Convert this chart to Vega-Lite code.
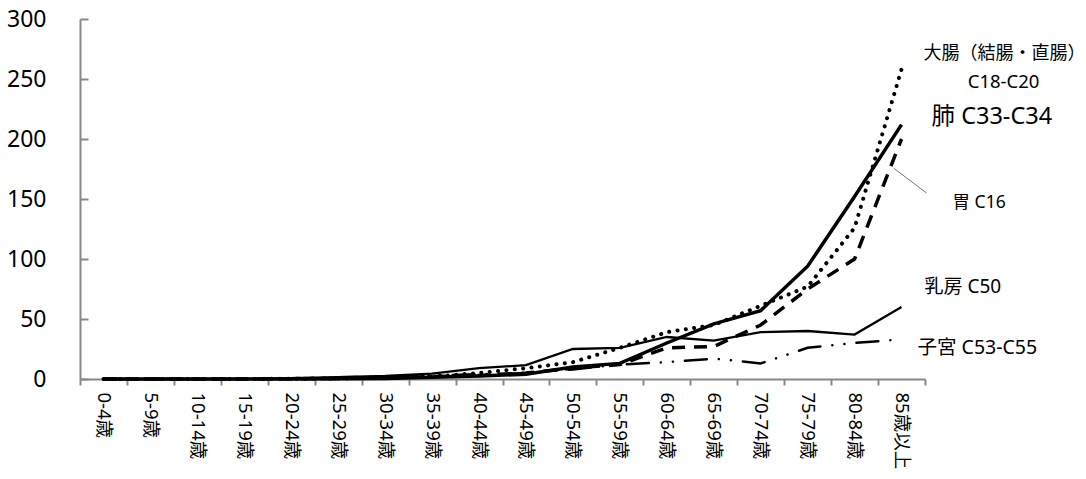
{
  "$schema": "https://vega.github.io/schema/vega-lite/v6.json",
  "width": 845,
  "height": 360,
  "autosize": {"type": "none"},
  "padding": {"left": 80, "top": 19, "right": 161, "bottom": 100},
  "background": "white",
  "config": {"view": {"stroke": null}, "font": "Noto Sans, Noto Sans CJK JP"},
  "datasets": {
    "rates": [
      {"age": "0-4歳", "series": "肺", "value": 0}, {"age": "5-9歳", "series": "肺", "value": 0}, {"age": "10-14歳", "series": "肺", "value": 0}, {"age": "15-19歳", "series": "肺", "value": 0}, {"age": "20-24歳", "series": "肺", "value": 0.1}, {"age": "25-29歳", "series": "肺", "value": 0.2}, {"age": "30-34歳", "series": "肺", "value": 0.5}, {"age": "35-39歳", "series": "肺", "value": 1.5}, {"age": "40-44歳", "series": "肺", "value": 2.5}, {"age": "45-49歳", "series": "肺", "value": 4}, {"age": "50-54歳", "series": "肺", "value": 10}, {"age": "55-59歳", "series": "肺", "value": 13}, {"age": "60-64歳", "series": "肺", "value": 30}, {"age": "65-69歳", "series": "肺", "value": 46}, {"age": "70-74歳", "series": "肺", "value": 57}, {"age": "75-79歳", "series": "肺", "value": 94}, {"age": "80-84歳", "series": "肺", "value": 152}, {"age": "85歳以上", "series": "肺", "value": 212},
      {"age": "0-4歳", "series": "大腸", "value": 0}, {"age": "5-9歳", "series": "大腸", "value": 0}, {"age": "10-14歳", "series": "大腸", "value": 0}, {"age": "15-19歳", "series": "大腸", "value": 0}, {"age": "20-24歳", "series": "大腸", "value": 0.2}, {"age": "25-29歳", "series": "大腸", "value": 0.4}, {"age": "30-34歳", "series": "大腸", "value": 1}, {"age": "35-39歳", "series": "大腸", "value": 2}, {"age": "40-44歳", "series": "大腸", "value": 5}, {"age": "45-49歳", "series": "大腸", "value": 9}, {"age": "50-54歳", "series": "大腸", "value": 14}, {"age": "55-59歳", "series": "大腸", "value": 26}, {"age": "60-64歳", "series": "大腸", "value": 39}, {"age": "65-69歳", "series": "大腸", "value": 45}, {"age": "70-74歳", "series": "大腸", "value": 61}, {"age": "75-79歳", "series": "大腸", "value": 77}, {"age": "80-84歳", "series": "大腸", "value": 126}, {"age": "85歳以上", "series": "大腸", "value": 258},
      {"age": "0-4歳", "series": "胃", "value": 0}, {"age": "5-9歳", "series": "胃", "value": 0}, {"age": "10-14歳", "series": "胃", "value": 0}, {"age": "15-19歳", "series": "胃", "value": 0}, {"age": "20-24歳", "series": "胃", "value": 0.2}, {"age": "25-29歳", "series": "胃", "value": 0.5}, {"age": "30-34歳", "series": "胃", "value": 1}, {"age": "35-39歳", "series": "胃", "value": 2}, {"age": "40-44歳", "series": "胃", "value": 3}, {"age": "45-49歳", "series": "胃", "value": 5}, {"age": "50-54歳", "series": "胃", "value": 9}, {"age": "55-59歳", "series": "胃", "value": 12}, {"age": "60-64歳", "series": "胃", "value": 26}, {"age": "65-69歳", "series": "胃", "value": 27}, {"age": "70-74歳", "series": "胃", "value": 45}, {"age": "75-79歳", "series": "胃", "value": 75}, {"age": "80-84歳", "series": "胃", "value": 100}, {"age": "85歳以上", "series": "胃", "value": 200},
      {"age": "0-4歳", "series": "乳房", "value": 0}, {"age": "5-9歳", "series": "乳房", "value": 0}, {"age": "10-14歳", "series": "乳房", "value": 0}, {"age": "15-19歳", "series": "乳房", "value": 0.1}, {"age": "20-24歳", "series": "乳房", "value": 0.8}, {"age": "25-29歳", "series": "乳房", "value": 1.5}, {"age": "30-34歳", "series": "乳房", "value": 2.5}, {"age": "35-39歳", "series": "乳房", "value": 4.5}, {"age": "40-44歳", "series": "乳房", "value": 9}, {"age": "45-49歳", "series": "乳房", "value": 11.5}, {"age": "50-54歳", "series": "乳房", "value": 25}, {"age": "55-59歳", "series": "乳房", "value": 26}, {"age": "60-64歳", "series": "乳房", "value": 35}, {"age": "65-69歳", "series": "乳房", "value": 32}, {"age": "70-74歳", "series": "乳房", "value": 39}, {"age": "75-79歳", "series": "乳房", "value": 40}, {"age": "80-84歳", "series": "乳房", "value": 37}, {"age": "85歳以上", "series": "乳房", "value": 60},
      {"age": "0-4歳", "series": "子宮", "value": 0}, {"age": "5-9歳", "series": "子宮", "value": 0}, {"age": "10-14歳", "series": "子宮", "value": 0}, {"age": "15-19歳", "series": "子宮", "value": 0.1}, {"age": "20-24歳", "series": "子宮", "value": 0.6}, {"age": "25-29歳", "series": "子宮", "value": 1.5}, {"age": "30-34歳", "series": "子宮", "value": 2}, {"age": "35-39歳", "series": "子宮", "value": 3}, {"age": "40-44歳", "series": "子宮", "value": 4}, {"age": "45-49歳", "series": "子宮", "value": 5}, {"age": "50-54歳", "series": "子宮", "value": 8}, {"age": "55-59歳", "series": "子宮", "value": 12}, {"age": "60-64歳", "series": "子宮", "value": 14}, {"age": "65-69歳", "series": "子宮", "value": 17}, {"age": "70-74歳", "series": "子宮", "value": 13}, {"age": "75-79歳", "series": "子宮", "value": 26}, {"age": "80-84歳", "series": "子宮", "value": 30}, {"age": "85歳以上", "series": "子宮", "value": 33}
    ]
  },
  "data": {"name": "rates"},
  "encoding": {
    "x": {
      "field": "age", "type": "nominal", "sort": null,
      "scale": {"type": "band", "paddingInner": 0, "paddingOuter": 0},
      "axis": {
        "title": null, "labelAngle": 90, "labelFontSize": 18.5, "labelColor": "#000000",
        "labelFont": "Noto Sans, Noto Sans CJK JP", "labelPadding": 7, "tickBand": "extent",
        "tickSize": 6, "tickColor": "#888888", "domainColor": "#888888", "domainWidth": 2, "tickWidth": 2, "grid": false
      }
    },
    "y": {
      "field": "value", "type": "quantitative",
      "scale": {"domain": [0, 300], "nice": false, "zero": true},
      "axis": {
        "title": null, "values": [0, 50, 100, 150, 200, 250, 300], "labelFontSize": 23, "labelColor": "#000000",
        "labelFont": "Noto Sans, Noto Sans CJK JP", "tickSize": -8, "labelPadding": 42, "tickColor": "#888888",
        "domainColor": "#888888", "domainWidth": 2, "tickWidth": 2, "grid": false
      }
    }
  },
  "layer": [
    {"transform": [{"filter": "datum.series === '子宮'"}], "mark": {"type": "line", "color": "#000000", "strokeWidth": 2.5, "strokeDash": [22, 12, 0.1, 12, 0.1, 12], "strokeCap": "round"}},
    {"transform": [{"filter": "datum.series === '乳房'"}], "mark": {"type": "line", "color": "#000000", "strokeWidth": 2.3}},
    {"transform": [{"filter": "datum.series === '胃'"}], "mark": {"type": "line", "color": "#000000", "strokeWidth": 3.5, "strokeDash": [13, 9]}},
    {"transform": [{"filter": "datum.series === '大腸'"}], "mark": {"type": "line", "color": "#000000", "strokeWidth": 4, "strokeDash": [0.1, 8.3], "strokeCap": "round"}},
    {"transform": [{"filter": "datum.series === '肺'"}], "mark": {"type": "line", "color": "#000000", "strokeWidth": 3.5}},
    {"transform": [{"filter": "datum.series === '胃' && datum.age === '85歳以上'"}], "mark": {"type": "rule", "color": "#555555", "strokeWidth": 0.8, "yOffset": 29, "y2Offset": 54, "xOffset": -8, "x2Offset": 25}, "encoding": {"y2": {"field": "value"}, "x2": {"field": "age"}}},
    {"transform": [{"filter": "datum.series === '大腸' && datum.age === '85歳以上'"}], "mark": {"type": "text", "text": "大腸（結腸・直腸）", "align": "left", "baseline": "middle", "dx": 22, "dy": -15, "fontSize": 18, "font": "Noto Sans CJK JP", "color": "#000000"}},
    {"transform": [{"filter": "datum.series === '大腸' && datum.age === '85歳以上'"}], "mark": {"type": "text", "text": "C18-C20", "align": "center", "baseline": "middle", "dx": 102, "dy": 13, "fontSize": 18.5, "color": "#000000"}},
    {"transform": [{"filter": "datum.series === '肺' && datum.age === '85歳以上'"}], "mark": {"type": "text", "text": "肺 C33-C34", "align": "left", "baseline": "middle", "dx": 30, "dy": -8, "fontSize": 23.5, "color": "#000000"}},
    {"transform": [{"filter": "datum.series === '胃' && datum.age === '85歳以上'"}], "mark": {"type": "text", "text": "胃 C16", "align": "left", "baseline": "middle", "dx": 51, "dy": 64, "fontSize": 17.5, "color": "#000000"}},
    {"transform": [{"filter": "datum.series === '乳房' && datum.age === '85歳以上'"}], "mark": {"type": "text", "text": "乳房 C50", "align": "left", "baseline": "middle", "dx": 23, "dy": -20, "fontSize": 19, "color": "#000000"}},
    {"transform": [{"filter": "datum.series === '子宮' && datum.age === '85歳以上'"}], "mark": {"type": "text", "text": "子宮 C53-C55", "align": "left", "baseline": "middle", "dx": 16, "dy": 9, "fontSize": 19.5, "color": "#000000"}}
  ]
}
